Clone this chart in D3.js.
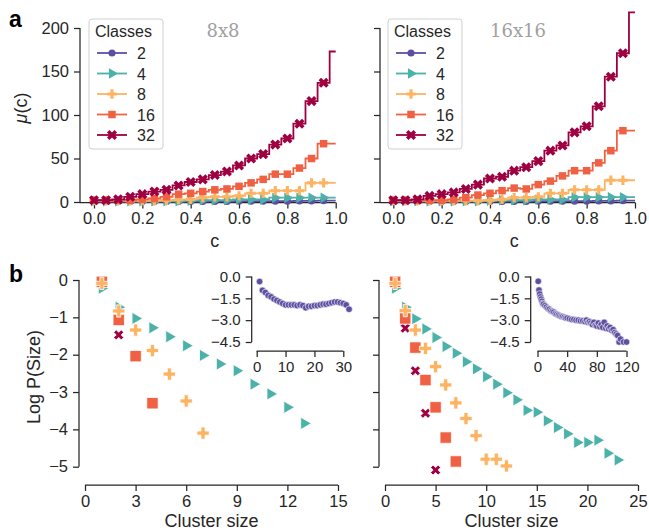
<!DOCTYPE html>
<html>
<head>
<meta charset="utf-8">
<script src="https://cdn.jsdelivr.net/npm/d3@7"></script>
<style>
  body { margin: 0; background: #fff; }
  svg { display: block; }
</style>
</head>
<body>
<script>
// ---- data ----
const classes = ["2", "4", "8", "16", "32"];
const colors = ["#5e4fa2", "#4cb1a8", "#fdb462", "#ef6142", "#9e0142"];

// c values (markers at all but the last one)
const cPoints = [0, 0.05, 0.1, 0.15, 0.2, 0.25, 0.3, 0.35, 0.4, 0.45, 0.5,
                 0.55, 0.6, 0.65, 0.7, 0.75, 0.8, 0.85, 0.9, 0.95, 1.0];

// mu(c), 8x8
const mu8_2  = [0.5, 0.5, 0.5, 0.5, 0.5, 0.5, 0.5, 0.5, 0.7, 0.7, 0.7, 0.7, 1, 1, 1, 1, 1, 1.2, 1.2, 1.5, 1.5];
const mu8_4  = [1, 1, 1, 1, 1, 1, 1, 1, 1.5, 2, 2, 2, 3, 3, 3, 5, 5, 5, 5, 5, 5];
const mu8_8  = [1.5, 1.5, 1.5, 1.5, 1.5, 1.5, 2, 2.5, 3, 5, 6, 6, 7, 10, 10, 13, 13, 13, 22, 22, 22];
const mu8_16 = [2, 2, 2, 2, 3, 4, 6, 9, 10, 12, 14, 15, 18, 22, 26, 32, 32, 39, 50, 67, 67];
const mu8_32 = [2, 2, 3, 6, 9, 12, 14, 19, 23, 26, 31, 35, 42, 50, 55, 66, 73, 90, 116, 137, 173];

// mu(c), 16x16
const mu16_2  = [0.5, 0.5, 0.5, 0.5, 0.5, 0.5, 0.5, 0.5, 0.7, 0.7, 0.7, 0.7, 1, 1, 1, 1, 1, 1.2, 1.2, 1.5, 1.5];
const mu16_4  = [1, 1, 1, 1, 1, 1, 1, 1, 1.5, 2, 2, 2, 3, 3, 3, 5.5, 5.5, 5.5, 5.5, 5.5, 5.5];
const mu16_8  = [1.5, 1.5, 1.5, 1.5, 1.5, 1.5, 1.5, 1.5, 2, 3, 5, 5, 6, 10, 10, 14, 14, 14, 25, 25, 25];
const mu16_16 = [2, 2, 2, 2, 2, 3, 5, 8, 10, 13, 16, 15, 20, 24, 30, 36, 36, 45, 59, 82, 82];
const mu16_32 = [2, 2, 3, 7, 9, 11, 15, 20, 27, 29, 36, 40, 47, 59, 65, 80, 87, 110, 144, 171, 218];

// log P(size), 8x8
const size8_4 = [1, 2, 3, 4, 5, 6, 7, 8, 9, 10, 11, 12, 13];
const logp8_4 = [-0.22, -0.73, -1.03, -1.28, -1.52, -1.76, -2.02, -2.25, -2.43, -2.79, -3.05, -3.41, -3.84];
const size8_8 = [1, 2, 3, 4, 5, 6, 7];
const logp8_8 = [-0.09, -0.83, -1.34, -1.89, -2.52, -3.24, -4.1];
const size8_16 = [1, 2, 3, 4];
const logp8_16 = [-0.05, -1.07, -2.04, -3.3];
const size8_32 = [1, 2];
const logp8_32 = [-0.03, -1.47];

// log P(size), 16x16
const size16_4 = [1, 2, 3, 4, 5, 6, 7, 8, 9, 10, 11, 12, 13, 14, 15, 16, 17, 18, 19, 20, 21, 22, 23];
const logp16_4 = [-0.22, -0.73, -1.04, -1.31, -1.54, -1.78, -1.96, -2.19, -2.38, -2.59, -2.79, -3.02,
                  -3.21, -3.49, -3.54, -3.77, -3.95, -4.12, -4.35, -4.35, -4.29, -4.64, -4.82];
const size16_8 = [1, 2, 3, 4, 5, 6, 7, 8, 9, 10, 11, 12];
const logp16_8 = [-0.09, -0.82, -1.34, -1.83, -2.32, -2.81, -3.29, -3.71, -4.17, -4.8, -4.8, -4.98];
const size16_16 = [1, 2, 3, 4, 5, 6, 7];
const logp16_16 = [-0.05, -1.03, -1.81, -2.68, -3.41, -4.22, -4.86];
const size16_32 = [1, 2, 3, 4, 5];
const logp16_32 = [-0.03, -1.29, -2.43, -3.57, -5.09];

// insets: 2 classes
const insetSize8 = [1, 2, 3, 4, 5, 6, 7, 8, 9, 10, 11, 12, 13, 14, 15, 16, 17, 18, 19, 20,
                    21, 22, 23, 24, 25, 26, 27, 28, 29, 30, 31, 32];
const insetLogp8 = [-0.35, -0.95, -1.1, -1.3, -1.4, -1.55, -1.65, -1.75, -1.85, -1.95, -1.95, -1.95,
                    -1.95, -2.0, -1.95, -2.0, -2.15, -2.05, -2.05, -2.0, -2.0, -1.95, -1.9, -1.9,
                    -1.85, -1.8, -1.75, -1.75, -1.8, -1.85, -1.95, -2.25];
const insetSize16 = [1, 2, 3, 4, 5, 6, 7, 8, 10, 12, 14, 16, 18, 20, 22, 24, 26, 28, 30, 32, 34, 36,
                     38, 40, 43, 46, 49, 52, 55, 58, 61, 64, 66, 68, 70, 72, 74, 76, 78, 80, 82, 84,
                     86, 88, 90, 92, 94, 96, 98, 100, 102, 104, 106, 108, 110, 112, 116, 120];
const insetLogp16 = [-0.33, -0.93, -1.2, -1.4, -1.55, -1.7, -1.85, -1.9, -2.0, -2.1, -2.2, -2.25,
                     -2.35, -2.4, -2.45, -2.55, -2.6, -2.65, -2.7, -2.75, -2.75, -2.8, -2.85, -2.85,
                     -2.9, -2.95, -2.95, -3.0, -3.0, -3.05, -3.05, -3.1, -3.0, -3.15, -3.1, -3.2,
                     -3.3, -3.15, -3.35, -3.4, -3.2, -3.45, -3.3, -3.5, -3.15, -3.55, -3.4, -3.6,
                     -3.5, -3.7, -3.65, -3.85, -3.95, -4.05, -4.5, -4.3, -4.5, -4.5];

const cTicks = [0, 0.2, 0.4, 0.6, 0.8, 1.0];
const muTicks = [0, 50, 100, 150, 200];
const logTicks = [0, -1, -2, -3, -4, -5];
const size8Ticks = [0, 3, 6, 9, 12, 15];
const size16Ticks = [0, 5, 10, 15, 20, 25];
const insetYTicks = [0, -1.5, -3, -4.5];
const inset8XTicks = [0, 10, 20, 30];
const inset16XTicks = [0, 40, 80, 120];

// ---- setup ----
const W = 649, H = 532;
const sans = "'Liberation Sans', Arial, sans-serif";
const ink = "#262626";

const svg = d3.select("body").append("svg")
  .attr("width", W).attr("height", H)
  .style("font-family", sans);

svg.append("rect").attr("width", W).attr("height", H).attr("fill", "#fff");

// marker shapes
const shapes = {
  "2":  { type: d3.symbolCircle, rot: 0 },
  "4":  { type: d3.symbolTriangle, rot: 90 },
  "8":  { type: d3.symbolCross, rot: 0 },
  "16": { type: d3.symbolSquare, rot: 0 },
  "32": { type: d3.symbolCross, rot: 45 }
};
const topSizes = { "2": 40, "4": 48, "8": 48, "16": 56, "32": 64 };
const botSizes = { "2": 30, "4": 66, "8": 84, "16": 130, "32": 64 };

function marker(g, cls, x, y, size, color, stroke) {
  const s = shapes[cls];
  g.append("path")
    .attr("d", d3.symbol().type(s.type).size(size)())
    .attr("transform", `translate(${x},${y}) rotate(${s.rot})`)
    .attr("fill", color)
    .attr("stroke", stroke || "none")
    .attr("stroke-width", stroke ? 0.8 : 0);
}

// axis helpers: ticks drawn by d3, spine drawn trimmed
function yAxis(scale, xPos, ticks, fmt, fs, spine) {
  const g = svg.append("g").attr("transform", `translate(${xPos},0)`)
    .call(d3.axisLeft(scale).tickValues(ticks).tickFormat(fmt).tickSize(6).tickPadding(5));
  g.select(".domain").remove();
  const s = spine || [scale(ticks[0]), scale(ticks[ticks.length - 1])];
  g.append("line").attr("x1", 0).attr("x2", 0).attr("y1", s[0]).attr("y2", s[1])
    .attr("stroke", ink).attr("stroke-width", 1.25);
  g.selectAll(".tick line").attr("stroke", ink).attr("stroke-width", 1.25);
  g.selectAll(".tick text").attr("fill", ink).style("font-size", fs + "px").style("font-family", sans);
  return g;
}
function xAxis(scale, yPos, ticks, fmt, fs, spine) {
  const g = svg.append("g").attr("transform", `translate(0,${yPos})`)
    .call(d3.axisBottom(scale).tickValues(ticks).tickFormat(fmt).tickSize(6).tickPadding(4));
  g.select(".domain").remove();
  const s = spine || [scale(ticks[0]), scale(ticks[ticks.length - 1])];
  g.append("line").attr("y1", 0).attr("y2", 0).attr("x1", s[0]).attr("x2", s[1])
    .attr("stroke", ink).attr("stroke-width", 1.25);
  g.selectAll(".tick line").attr("stroke", ink).attr("stroke-width", 1.25);
  g.selectAll(".tick text").attr("fill", ink).style("font-size", fs + "px").style("font-family", sans);
  return g;
}

// ---- panel a ----
function muPanel(x0, x1, yAxisX, seriesList, title, titleX, showYLabels, legendX) {
  const x = d3.scaleLinear().domain([0, 1]).range([x0, x1]);
  const y = d3.scaleLinear().domain([0, 200]).range([202, 28]);

  yAxis(y, yAxisX, muTicks, showYLabels ? d3.format("d") : "", 16.5);
  xAxis(x, 202.5, cTicks, d3.format(".1f"), 16.5, [yAxisX, x(1)]);

  const line = d3.line().x((d, i) => x(cPoints[i])).y(d => y(d)).curve(d3.curveStep);
  const g = svg.append("g");
  seriesList.forEach((vals, k) => {
    g.append("path").datum(vals)
      .attr("d", line)
      .attr("fill", "none")
      .attr("stroke", colors[k])
      .attr("stroke-width", 1.8);
    vals.slice(0, vals.length - 1).forEach((v, i) => {
      marker(g, classes[k], x(cPoints[i]), y(v), topSizes[classes[k]], colors[k]);
    });
  });

  svg.append("text")
    .attr("x", titleX).attr("y", 37)
    .attr("text-anchor", "middle")
    .style("font-family", "'DejaVu Serif', serif")
    .style("font-size", "18px")
    .attr("fill", "#a0a0a0")
    .text(title);

  svg.append("text")
    .attr("x", (x0 + x1) / 2).attr("y", 247)
    .attr("text-anchor", "middle")
    .style("font-size", "18px").attr("fill", ink)
    .text("c");

  // legend
  const lg = svg.append("g").attr("transform", `translate(${legendX},19)`);
  lg.append("rect").attr("width", 74).attr("height", 130).attr("rx", 3)
    .attr("fill", "#fff").attr("fill-opacity", 0.8)
    .attr("stroke", "#d0d0d0").attr("stroke-width", 1);
  lg.append("text").attr("x", 6).attr("y", 18)
    .style("font-size", "16px").attr("fill", ink).text("Classes");
  classes.forEach((cl, k) => {
    const cy = 34 + k * 20.5;
    lg.append("line").attr("x1", 8).attr("x2", 38).attr("y1", cy).attr("y2", cy)
      .attr("stroke", colors[k]).attr("stroke-width", 1.8);
    marker(lg, cl, 23, cy, topSizes[cl], colors[k]);
    lg.append("text").attr("x", 48).attr("y", cy + 6)
      .style("font-size", "16px").attr("fill", ink).text(cl);
  });
}

muPanel(94, 335.7, 80, [mu8_2, mu8_4, mu8_8, mu8_16, mu8_32], "8x8", 223, true, 89);
muPanel(393.3, 635, 380, [mu16_2, mu16_4, mu16_8, mu16_16, mu16_32], "16x16", 518, false, 388);

svg.append("text")
  .attr("transform", "translate(27,108) rotate(-90)")
  .attr("text-anchor", "middle")
  .style("font-size", "18px").attr("fill", ink)
  .html("<tspan font-style='italic'>μ</tspan>(c)");

// ---- panel b ----
function sizePanel(x0, x1, maxSize, xTicks, yAxisX, groups, showYLabels) {
  const x = d3.scaleLinear().domain([0, maxSize]).range([x0, x1]);
  const y = d3.scaleLinear().domain([0, -5]).range([280, 466.7]);

  yAxis(y, yAxisX, logTicks, showYLabels ? d3.format("d") : "", 16.5);
  xAxis(x, 485, xTicks, d3.format("d"), 16.5);

  const g = svg.append("g");
  groups.forEach(([cl, sizes, vals]) => {
    const k = classes.indexOf(cl);
    sizes.forEach((s, i) => marker(g, cl, x(s), y(vals[i]), botSizes[cl], colors[k], "#fff"));
  });

  svg.append("text")
    .attr("x", (x0 + x1) / 2).attr("y", 527)
    .attr("text-anchor", "middle")
    .style("font-size", "18px").attr("fill", ink)
    .text("Cluster size");
}

sizePanel(85, 338, 15, size8Ticks, 79, [
  ["4", size8_4, logp8_4], ["32", size8_32, logp8_32],
  ["16", size8_16, logp8_16], ["8", size8_8, logp8_8]
], true);
sizePanel(385, 638, 25, size16Ticks, 379, [
  ["4", size16_4, logp16_4], ["32", size16_32, logp16_32],
  ["16", size16_16, logp16_16], ["8", size16_8, logp16_8]
], false);

svg.append("text")
  .attr("transform", "translate(40,377) rotate(-90)")
  .attr("text-anchor", "middle")
  .style("font-size", "18px").attr("fill", ink)
  .text("Log P(Size)");

// ---- insets ----
function inset(x0, x1, maxX, xTicks, yAxisX, sizes, vals) {
  const x = d3.scaleLinear().domain([0, maxX]).range([x0, x1]);
  const y = d3.scaleLinear().domain([0, -4.5]).range([276.5, 342]);
  yAxis(y, yAxisX, insetYTicks, d3.format(".1f"), 15);
  xAxis(x, 351, xTicks, d3.format("d"), 15);
  const g = svg.append("g");
  sizes.forEach((s, i) => {
    g.append("circle").attr("cx", x(s)).attr("cy", y(vals[i])).attr("r", 3.3)
      .attr("fill", colors[0]).attr("stroke", "#fff").attr("stroke-width", 0.6);
  });
}
inset(256.7, 343.3, 30, inset8XTicks, 251.7, insetSize8, insetLogp8);
inset(537.5, 626.5, 120, inset16XTicks, 530.7, insetSize16, insetLogp16);

// panel letters
svg.append("text").attr("x", 9).attr("y", 27)
  .style("font-size", "23px").style("font-weight", "bold").attr("fill", "#000").text("a");
svg.append("text").attr("x", 9).attr("y", 282)
  .style("font-size", "23px").style("font-weight", "bold").attr("fill", "#000").text("b");
</script>
</body>
</html>
